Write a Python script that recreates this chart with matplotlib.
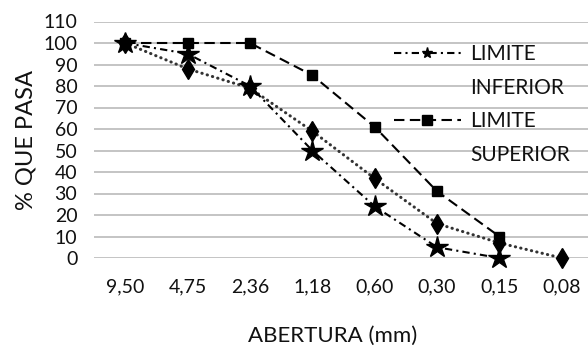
import matplotlib
matplotlib.use("Agg")
import matplotlib.pyplot as plt
from matplotlib.lines import Line2D

plt.rcParams['font.family'] = ['Lato', 'DejaVu Sans']

aberturas = ["9,50", "4,75", "2,36", "1,18", "0,60", "0,30", "0,15", "0,08"]
limite_inferior = [100, 95, 80, 50, 24, 5, 0]
limite_superior = [100, 100, 100, 85, 61, 31, 10]
muestra = [100, 88, 79, 59, 37, 16, 7, 0]
y_ticks = list(range(0, 111, 10))

W, H = 588, 345
fig = plt.figure(figsize=(W / 100, H / 100), dpi=100)
ax = fig.add_axes([94 / W, (H - 258) / H, 499 / W, 236.5 / H])

x = list(range(len(aberturas)))

ax.plot(x[:len(limite_superior)], limite_superior, color='black', lw=1.5,
        linestyle=(0, (5, 2.6)), marker='s', ms=7.5, clip_on=False, zorder=3,
        label='_sup')
ax.plot(x[:len(limite_inferior)], limite_inferior, color='black', lw=1.5,
        linestyle=(0, (3.5, 2, 1, 2)), marker='*', ms=16, clip_on=False, zorder=4,
        label='_inf')
ax.plot(x, muestra, color='#333333', lw=2.2, linestyle=(0, (0.1, 1.7)),
        dash_capstyle='round', marker='d', ms=10, markerfacecolor='black',
        markeredgecolor='black', clip_on=False, zorder=3, label='_nolegend_')

ax.set_xlim(-0.5, len(aberturas) - 0.5)
ax.set_ylim(0, 110)
ax.set_yticks(y_ticks)
ax.set_xticks(x)
ax.set_xticklabels(aberturas)
ax.tick_params(axis='both', length=0, labelsize=14, colors='#111111')
ax.tick_params(axis='y', pad=12)
ax.tick_params(axis='x', pad=15)
ax.grid(axis='y', color='#c4c4c4', lw=1.4)
ax.set_axisbelow(True)
for s in ax.spines.values():
    s.set_visible(False)

ax.set_ylabel('% QUE PASA', fontsize=17, color='#111111')
ax.yaxis.set_label_coords((37 - 94) / 499, 0.5)
ax.set_xlabel('ABERTURA (mm)', fontsize=16, color='#111111')
ax.xaxis.set_label_coords((333 - 94) / 499, -(326 - 258) / 236.5)

handles = [
    Line2D([], [], color='black', lw=1.5, linestyle=(0, (3.5, 2, 1, 2)), marker='*', ms=8),
    Line2D([], [], linestyle='none'),
    Line2D([], [], color='black', lw=1.5, linestyle=(0, (5, 2.6)), marker='s', ms=7),
    Line2D([], [], linestyle='none'),
]
labels = ['LIMITE', 'INFERIOR', 'LIMITE', 'SUPERIOR']
fig.legend(handles, labels, loc='upper left',
           bbox_to_anchor=(394 / W, (H - 44) / H), frameon=False,
           fontsize=15, handlelength=3.2, handletextpad=0.45,
           labelspacing=0.65, borderpad=0, borderaxespad=0,
           labelcolor='#111111')

fig.savefig('out.png', dpi=100)
